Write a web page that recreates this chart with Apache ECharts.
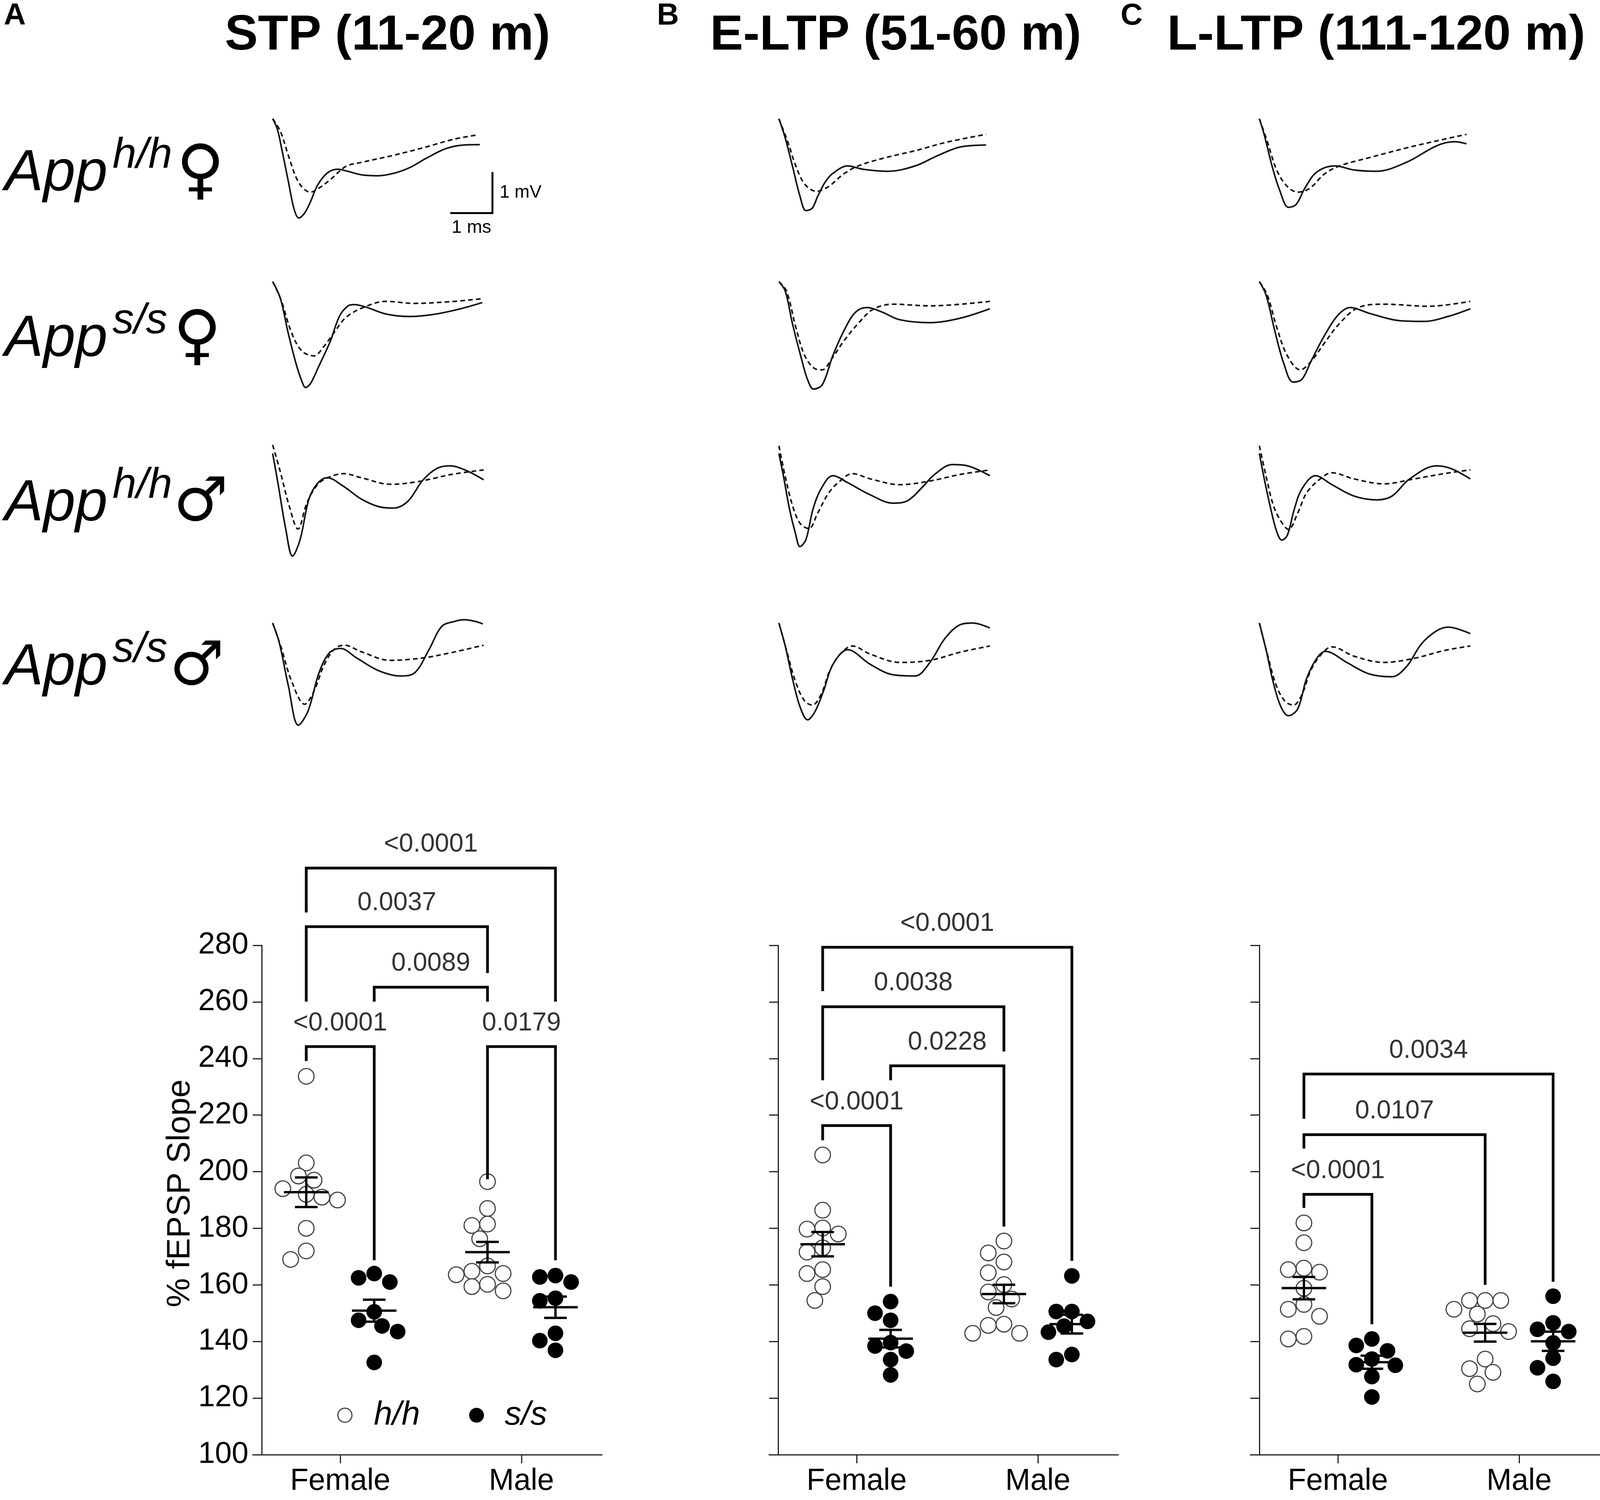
<!DOCTYPE html>
<html>
<head>
<meta charset="utf-8">
<title>App h/h vs s/s fEPSP</title>
<script src="https://cdn.jsdelivr.net/npm/echarts@6/dist/echarts.min.js"></script>
<style>
  html, body { margin: 0; padding: 0; background: #fff; }
  #main { width: 4107px; height: 3840px; }
</style>
</head>
<body>
<div id="main"></div>
<script>
var windowTitles = ['STP (11-20 m)', 'E-LTP (51-60 m)', 'L-LTP (111-120 m)'];
var panelLetters = ['A', 'B', 'C'];
var rowGenotypes = ['h/h', 's/s', 'h/h', 's/s'];
var rowSexSigns = ['\u2640', '\u2640', '\u2642', '\u2642'];
var sexes = ['Female', 'Male'];
var genotypes = ['h/h', 's/s'];

// representative fEPSP traces, [time ms, mV], rows: h/h F, s/s F, h/h M, s/s M
var stpSolid = [
  [[0,0],[0.11,-0.25],[0.22,-0.76],[0.37,-1.52],[0.51,-2.21],[0.62,-2.42],[0.75,-2.31],[0.89,-2.04],[1.07,-1.61],[1.31,-1.31],[1.55,-1.23],[1.74,-1.27],[2.12,-1.37],[2.49,-1.39],[2.87,-1.33],[3.25,-1.19],[3.63,-0.97],[4.10,-0.73],[4.53,-0.64],[4.91,-0.63]],
  [[0,0],[0.18,-0.40],[0.37,-1.26],[0.56,-2.02],[0.70,-2.45],[0.78,-2.58],[0.90,-2.48],[1.10,-2.05],[1.36,-1.47],[1.59,-0.83],[1.79,-0.59],[1.93,-0.56],[2.21,-0.62],[2.69,-0.79],[3.25,-0.85],[3.81,-0.80],[4.38,-0.68],[4.97,-0.51]],
  [[0,0],[0.13,-0.75],[0.31,-1.84],[0.47,-2.50],[0.65,-2.10],[0.86,-1.11],[1.07,-0.72],[1.29,-0.59],[1.68,-0.80],[2.10,-1.11],[2.53,-1.30],[2.87,-1.33],[3.21,-1.16],[3.56,-0.65],[3.90,-0.36],[4.20,-0.30],[4.58,-0.41],[5.00,-0.64]],
  [[0,0],[0.16,-0.49],[0.37,-1.52],[0.61,-2.49],[0.84,-2.14],[1.10,-1.21],[1.35,-0.72],[1.61,-0.62],[1.99,-0.85],[2.51,-1.16],[3.03,-1.29],[3.37,-1.21],[3.71,-0.64],[4.01,-0.08],[4.31,0.04],[4.55,0.08],[4.80,0.04],[4.98,-0.02]]
];
var stpDashed = [
  [[0,0],[0.18,-0.30],[0.37,-0.89],[0.56,-1.44],[0.72,-1.69],[0.89,-1.79],[1.07,-1.71],[1.36,-1.49],[1.74,-1.16],[2.12,-1.06],[2.87,-0.89],[3.63,-0.69],[4.29,-0.50],[4.88,-0.39]],
  [[0,0],[0.20,-0.45],[0.45,-1.25],[0.70,-1.70],[0.98,-1.81],[1.20,-1.60],[1.45,-1.25],[1.74,-0.87],[2.17,-0.62],[2.69,-0.48],[3.34,-0.53],[4.19,-0.49],[4.93,-0.42]],
  [[0,0.21],[0.18,-0.44],[0.39,-1.27],[0.60,-1.84],[0.81,-1.21],[1.07,-0.75],[1.33,-0.58],[1.68,-0.49],[2.10,-0.59],[2.79,-0.75],[3.47,-0.68],[4.24,-0.51],[5.00,-0.40]],
  [[0,0],[0.20,-0.59],[0.45,-1.42],[0.76,-1.98],[0.97,-1.68],[1.23,-1.00],[1.48,-0.62],[1.70,-0.54],[2.10,-0.70],[2.79,-0.91],[3.56,-0.85],[4.24,-0.72],[5.00,-0.54]]
];
var eltpSolid = [
  [[0,0],[0.15,-0.47],[0.32,-1.15],[0.50,-1.89],[0.64,-2.24],[0.79,-2.18],[0.92,-1.89],[1.10,-1.54],[1.28,-1.33],[1.63,-1.15],[1.99,-1.23],[2.59,-1.28],[3.23,-1.15],[3.76,-0.90],[4.29,-0.69],[4.91,-0.64]],
  [[0,0],[0.15,-0.23],[0.32,-1.02],[0.54,-1.90],[0.68,-2.39],[0.82,-2.62],[1.03,-2.51],[1.28,-1.80],[1.56,-1.16],[1.82,-0.74],[2.09,-0.63],[2.44,-0.74],[2.87,-0.93],[3.58,-1.00],[4.30,-0.89],[5.00,-0.66]],
  [[0,0],[0.11,-0.56],[0.25,-1.35],[0.39,-1.94],[0.50,-2.27],[0.64,-2.10],[0.81,-1.35],[1.00,-0.86],[1.28,-0.54],[1.63,-0.71],[2.17,-1.01],[2.70,-1.21],[3.05,-1.15],[3.41,-0.81],[3.69,-0.51],[4.11,-0.27],[4.47,-0.30],[5.00,-0.54]],
  [[0,0],[0.15,-0.56],[0.32,-1.35],[0.50,-2.04],[0.68,-2.36],[0.85,-2.17],[1.06,-1.65],[1.28,-1.01],[1.63,-0.65],[2.17,-1.01],[2.70,-1.26],[3.23,-1.29],[3.58,-0.96],[3.94,-0.37],[4.30,-0.04],[4.60,0.0],[5.00,-0.12]]
];
var eltpDashed = [
  [[0,0],[0.21,-0.56],[0.40,-1.15],[0.61,-1.59],[0.89,-1.77],[1.18,-1.65],[1.53,-1.35],[1.88,-1.15],[2.52,-0.95],[3.23,-0.78],[3.94,-0.58],[4.91,-0.38]],
  [[0,0],[0.18,-0.23],[0.40,-1.11],[0.61,-1.80],[0.85,-2.12],[1.03,-2.15],[1.24,-1.90],[1.53,-1.46],[1.88,-1.02],[2.24,-0.67],[2.70,-0.55],[3.58,-0.59],[5.00,-0.48]],
  [[0,0.19],[0.15,-0.56],[0.32,-1.26],[0.50,-1.70],[0.71,-1.83],[0.92,-1.45],[1.18,-0.96],[1.45,-0.67],[1.74,-0.49],[2.17,-0.62],[2.87,-0.76],[3.58,-0.67],[4.30,-0.51],[5.00,-0.40]],
  [[0,0],[0.18,-0.66],[0.40,-1.45],[0.61,-1.90],[0.79,-2.00],[1.00,-1.74],[1.21,-1.15],[1.45,-0.76],[1.74,-0.56],[2.17,-0.76],[2.87,-0.96],[3.58,-0.91],[4.30,-0.71],[5.00,-0.56]]
];
var lltpSolid = [
  [[0,0],[0.12,-0.41],[0.30,-1.15],[0.48,-1.74],[0.69,-2.16],[0.87,-2.09],[1.08,-1.69],[1.36,-1.30],[1.79,-1.15],[2.25,-1.25],[2.78,-1.28],[3.49,-1.06],[4.20,-0.66],[4.62,-0.56],[4.91,-0.61]],
  [[0,0],[0.16,-0.33],[0.37,-1.22],[0.58,-2.00],[0.80,-2.45],[1.01,-2.38],[1.22,-1.95],[1.54,-1.32],[1.86,-0.82],[2.15,-0.63],[2.60,-0.77],[3.31,-0.95],[3.90,-0.97],[4.50,-0.84],[5.00,-0.66]],
  [[0,0],[0.12,-0.64],[0.27,-1.35],[0.41,-1.90],[0.53,-2.11],[0.66,-2.00],[0.83,-1.35],[1.01,-0.86],[1.33,-0.54],[1.72,-0.76],[2.25,-1.04],[2.78,-1.13],[3.14,-1.04],[3.56,-0.62],[4.20,-0.30],[4.55,-0.37],[5.00,-0.62]],
  [[0,0],[0.16,-0.66],[0.33,-1.45],[0.51,-2.04],[0.69,-2.26],[0.91,-2.09],[1.12,-1.35],[1.36,-0.86],[1.57,-0.69],[2.07,-0.96],[2.60,-1.24],[3.14,-1.31],[3.49,-1.06],[3.84,-0.51],[4.20,-0.19],[4.48,-0.10],[5.00,-0.26]]
];
var lltpDashed = [
  [[0,0],[0.19,-0.56],[0.41,-1.25],[0.66,-1.65],[0.91,-1.79],[1.19,-1.70],[1.54,-1.35],[1.90,-1.15],[2.60,-0.95],[3.49,-0.71],[4.20,-0.54],[4.91,-0.38]],
  [[0,0],[0.19,-0.33],[0.41,-1.11],[0.66,-1.80],[0.97,-2.15],[1.22,-1.95],[1.54,-1.50],[1.90,-1.02],[2.35,-0.63],[2.95,-0.55],[4.02,-0.60],[5.00,-0.48]],
  [[0,0.19],[0.16,-0.56],[0.33,-1.26],[0.51,-1.65],[0.69,-1.85],[0.91,-1.45],[1.12,-0.96],[1.44,-0.62],[1.72,-0.47],[2.25,-0.62],[2.95,-0.74],[3.67,-0.62],[4.38,-0.49],[5.00,-0.40]],
  [[0,0],[0.19,-0.76],[0.41,-1.55],[0.62,-1.92],[0.81,-2.00],[1.01,-1.74],[1.22,-1.15],[1.47,-0.76],[1.72,-0.58],[2.25,-0.81],[2.95,-0.96],[3.67,-0.86],[4.38,-0.67],[5.00,-0.56]]
];

// % fEPSP slope, one value per slice
var stpFemaleHh = [233.7, 203.1, 198.5, 197.0, 194.0, 192.0, 191.0, 190.0, 180.0, 172.0, 169.0];
var stpFemaleSs = [164.0, 162.5, 161.0, 150.5, 147.5, 145.5, 143.5, 132.6];
var stpMaleHh = [196.5, 187.0, 181.5, 181.0, 176.3, 166.7, 164.8, 164.0, 163.6, 160.2, 159.4, 157.9];
var stpMaleSs = [163.3, 162.8, 161.0, 155.3, 154.4, 142.9, 140.3, 136.9];

var eltpFemaleHh = [205.9, 186.4, 180.1, 179.7, 178.0, 173.1, 171.6, 165.4, 164.0, 159.4, 154.5];
var eltpFemaleSs = [154.1, 150.0, 147.5, 139.6, 138.4, 136.6, 133.6, 128.2];
var eltpMaleHh = [175.5, 171.3, 168.1, 164.3, 160.1, 157.5, 155.0, 152.0, 146.1, 145.7, 142.9, 142.9];
var eltpMaleSs = [163.2, 150.6, 150.6, 147.1, 145.4, 143.3, 135.4, 133.6];

var lltpFemaleHh = [181.9, 174.9, 165.9, 165.4, 164.5, 158.8, 153.1, 151.4, 148.9, 141.8, 140.9];
var lltpFemaleSs = [140.9, 138.6, 136.7, 133.8, 131.8, 131.6, 127.6, 120.4];
var lltpMaleHh = [154.5, 154.5, 154.5, 151.4, 149.7, 146.3, 144.5, 143.5, 133.8, 130.4, 129.1, 125.0];
var lltpMaleSs = [156.0, 146.6, 144.3, 143.5, 139.5, 134.1, 130.7, 125.9];

var stpP = ['<0.0001', '0.0037', '0.0089', '<0.0001', '0.0179'];
var eltpP = ['<0.0001', '0.0038', '0.0228', '<0.0001'];
var lltpP = ['0.0034', '0.0107', '<0.0001'];

var yMin = 100, yMax = 280, yStep = 20;

// ---- layout (pixels / axis units) ----
var FONT = '"Liberation Sans", Arial, Helvetica, sans-serif';
var traceX0 = [698, 1994, 3224];
var traceY0 = [304, 721, 1161, 1595];
var PX_MS = 108, PX_MV = 105, T_MAX = 5.4;
var plotAxisX = [670, 1992, 3224];
var PLOT_TOP = 2420, PLOT_H = 1304, PLOT_W = 894;
var X_MIN = 0.5172, X_MAX = 2.444;   // Female tick = 1, Male tick = 2
var groupX = [0.8125, 1.1875, 1.8125, 2.1875];
var PX_X = PLOT_W / (X_MAX - X_MIN);
var PX_Y = PLOT_H / (yMax - yMin);
var DOT = 40;
var rowY = [446, 870, 1291, 1711];
var signX = [513, 505, 514, 504];
var signSize = [168, 168, 156, 156];
// brackets: [group a, group b, bar height, leg end at a, leg end at b]
var stpBrackets = [[0, 3, 307.3, 291.6, 260.1], [0, 2, 286.6, 260.1, 270.2], [1, 2, 265.2, 260.1, 260.1], [0, 1, 244.2, 239.1, 168.7], [2, 3, 244.2, 197.3, 168.7]];
var eltpBrackets = [[0, 3, 279.3, 263.8, 168.5], [0, 2, 258.3, 232.3, 242.5], [1, 2, 237.4, 232.3, 180.6], [0, 1, 216.3, 211.1, 159.4]];
var lltpBrackets = [[0, 3, 234.5, 218.7, 161.1], [0, 2, 213.1, 208.2, 160.0], [0, 1, 192.0, 187.2, 146.1]];

var panels = [
  { solid: stpSolid, dashed: stpDashed, groups: [stpFemaleHh, stpFemaleSs, stpMaleHh, stpMaleSs], p: stpP, brackets: stpBrackets },
  { solid: eltpSolid, dashed: eltpDashed, groups: [eltpFemaleHh, eltpFemaleSs, eltpMaleHh, eltpMaleSs], p: eltpP, brackets: eltpBrackets },
  { solid: lltpSolid, dashed: lltpDashed, groups: [lltpFemaleHh, lltpFemaleSs, lltpMaleHh, lltpMaleSs], p: lltpP, brackets: lltpBrackets }
];

function stats(vals) {
  var n = vals.length, m = 0, ss = 0;
  vals.forEach(function (v) { m += v; });
  m /= n;
  vals.forEach(function (v) { ss += (v - m) * (v - m); });
  return { mean: m, sem: Math.sqrt(ss / (n - 1)) / Math.sqrt(n) };
}

// simple beeswarm: spread points sideways so dots don't overlap
function swarm(vals, cx) {
  var order = vals.map(function (v, i) { return i; }).sort(function (a, b) { return vals[b] - vals[a]; });
  var steps = [0, -0.5, 0.5, -1, 1, -1.5, 1.5, -2, 2];
  var placed = [], out = [];
  order.forEach(function (i) {
    var py = vals[i] * PX_Y;
    for (var k = 0; k < steps.length; k++) {
      var px = steps[k] * DOT;
      var free = placed.every(function (q) { return Math.sqrt((q[0] - px) * (q[0] - px) + (q[1] - py) * (q[1] - py)) >= DOT * 0.97; });
      if (free || k === steps.length - 1) {
        placed.push([px, py]);
        out[i] = [cx + px / PX_X, vals[i]];
        break;
      }
    }
  });
  return out;
}

var grids = [], xAxes = [], yAxes = [], series = [];

function traceLine(gi, pts, dashed) {
  return {
    type: 'line', xAxisIndex: gi, yAxisIndex: gi, data: pts,
    smooth: 0.35, symbol: 'none', silent: true,
    lineStyle: { color: '#111', width: 4, type: dashed ? [12, 8] : 'solid' }
  };
}

panels.forEach(function (pn, c) {
  for (var r = 0; r < 4; r++) {
    var gi = grids.length;
    grids.push({ left: traceX0[c], top: traceY0[r] - 0.5 * PX_MV, width: T_MAX * PX_MS, height: 3.5 * PX_MV });
    xAxes.push({ gridIndex: gi, type: 'value', min: 0, max: T_MAX, show: false });
    yAxes.push({ gridIndex: gi, type: 'value', min: -3, max: 0.5, show: false });
    series.push(traceLine(gi, pn.dashed[r], true));
    series.push(traceLine(gi, pn.solid[r], false));
  }
});

// scale bar on first trace: 1 ms x 1 mV
series.push({
  type: 'line', xAxisIndex: 0, yAxisIndex: 0, clip: false, symbol: 'none', silent: true,
  data: [[4.21, -2.3], [5.21, -2.3], [5.21, -1.3]],
  lineStyle: { color: '#000', width: 5, join: 'miter' }
});

var axisColor = '#222';
panels.forEach(function (pn, c) {
  var gi = grids.length;
  grids.push({ left: plotAxisX[c] - 23, top: PLOT_TOP, width: PLOT_W, height: PLOT_H });
  xAxes.push({
    gridIndex: gi, type: 'value', min: X_MIN, max: X_MAX,
    axisLine: { show: true, lineStyle: { color: axisColor, width: 3 } },
    axisTick: { show: true, customValues: [1, 2], length: 22, lineStyle: { color: axisColor, width: 3 } },
    axisLabel: {
      customValues: [1, 2], margin: 30, color: '#000', fontSize: 77, fontFamily: FONT,
      formatter: function (v) { return v < 1.5 ? sexes[0] : sexes[1]; }
    },
    splitLine: { show: false }
  });
  yAxes.push({
    gridIndex: gi, type: 'value', min: yMin, max: yMax, interval: yStep, offset: -23,
    axisLine: { show: true, lineStyle: { color: axisColor, width: 3 } },
    axisTick: { show: true, length: 23, lineStyle: { color: axisColor, width: 3 } },
    axisLabel: { show: c === 0, margin: 34, color: '#000', fontSize: 77, fontFamily: FONT },
    splitLine: { show: false }
  });

  pn.groups.forEach(function (vals, g) {
    series.push({
      type: 'scatter', name: genotypes[g % 2], xAxisIndex: gi, yAxisIndex: gi,
      data: swarm(vals, groupX[g]), symbol: 'circle', symbolSize: DOT, silent: true, z: 3,
      itemStyle: g % 2 === 0
        ? { color: '#fff', borderColor: '#444', borderWidth: 3, opacity: 1 }
        : { color: '#000', opacity: 1 }
    });
  });

  series.push({
    type: 'custom', xAxisIndex: gi, yAxisIndex: gi, z: 6, silent: true,
    data: pn.groups.map(function (vals, g) { var s = stats(vals); return [groupX[g], s.mean, s.sem]; }),
    renderItem: function (params, api) {
      var x = api.value(0), m = api.value(1), e = api.value(2);
      var mid = api.coord([x, m]), hi = api.coord([x, m + e]), lo = api.coord([x, m - e]);
      var st = { stroke: '#000', lineWidth: 6 };
      return {
        type: 'group', children: [
          { type: 'line', shape: { x1: mid[0] - 57, y1: mid[1], x2: mid[0] + 57, y2: mid[1] }, style: st },
          { type: 'line', shape: { x1: mid[0], y1: hi[1], x2: mid[0], y2: lo[1] }, style: st },
          { type: 'line', shape: { x1: mid[0] - 29, y1: hi[1], x2: mid[0] + 29, y2: hi[1] }, style: st },
          { type: 'line', shape: { x1: mid[0] - 29, y1: lo[1], x2: mid[0] + 29, y2: lo[1] }, style: st }
        ]
      };
    }
  });

  pn.brackets.forEach(function (b, k) {
    var xa = groupX[b[0]], xb = groupX[b[1]];
    series.push({
      type: 'line', xAxisIndex: gi, yAxisIndex: gi, clip: false, symbol: 'none', silent: true, z: 4,
      data: [[xa, b[3]], [xa, b[2]], [xb, b[2]], [xb, b[4]]],
      lineStyle: { color: '#000', width: 7, cap: 'butt', join: 'miter' }
    });
    series.push({
      type: 'scatter', xAxisIndex: gi, yAxisIndex: gi, clip: false, silent: true, z: 4,
      symbolSize: 1, itemStyle: { color: 'rgba(0,0,0,0)' },
      data: [{ value: [(xa + xb) / 2, b[2] + 60 / PX_Y] }],
      label: {
        show: true, position: 'inside', formatter: pn.p[k],
        color: '#000', fontSize: 66, fontFamily: FONT
      }
    });
  });
});

// ---- texts ----
var graphics = [];
function txt(x, y, s, size, extra) {
  var st = {
    text: s, x: x, y: y, fill: '#000', fontSize: size, fontFamily: FONT,
    align: 'left', verticalAlign: 'middle', textAlign: 'left', textVerticalAlign: 'middle'
  };
  for (var k in extra) { st[k] = extra[k]; }
  if (extra && extra.align) { st.textAlign = extra.align; }
  graphics.push({ type: 'text', silent: true, style: st });
}

var titleX = [992, 2293, 3523];
var letterX = [38, 1710, 2897];
windowTitles.forEach(function (t, i) {
  txt(titleX[i], 92, t, 127, { fontWeight: 'bold', align: 'center' });
  txt(letterX[i], 41, panelLetters[i], 78, { fontWeight: 'bold', align: 'center' });
});

rowY.forEach(function (y, r) {
  txt(12, y, 'App', 148, { fontStyle: 'italic' });
  txt(288, y - 48, rowGenotypes[r], 110, { fontStyle: 'italic' });
  txt(signX[r], y, rowSexSigns[r], signSize[r], { fontFamily: '"DejaVu Sans", sans-serif', fontWeight: 'bold', align: 'center' });
});

txt(1279, 493, '1 mV', 46, {});
txt(1156, 583, '1 ms', 47, {});

// y axis title
graphics.push({
  type: 'text', silent: true, x: 462, y: 3055, rotation: Math.PI / 2,
  style: {
    text: '% fEPSP Slope', fill: '#000', fontSize: 84, fontFamily: FONT,
    align: 'center', verticalAlign: 'middle', textAlign: 'center', textVerticalAlign: 'middle'
  }
});

// legend
graphics.push({ type: 'circle', silent: true, shape: { cx: 883, cy: 3623, r: 18 }, style: { fill: '#fff', stroke: '#444', lineWidth: 3 } });
graphics.push({ type: 'circle', silent: true, shape: { cx: 1220, cy: 3623, r: 19 }, style: { fill: '#000' } });
txt(957, 3623, genotypes[0], 85, { fontStyle: 'italic' });
txt(1292, 3623, genotypes[1], 85, { fontStyle: 'italic' });

var chart = echarts.init(document.getElementById('main'));
chart.setOption({
  backgroundColor: '#fff',
  animation: false,
  grid: grids,
  xAxis: xAxes,
  yAxis: yAxes,
  series: series,
  graphic: graphics
});
</script>
</body>
</html>
